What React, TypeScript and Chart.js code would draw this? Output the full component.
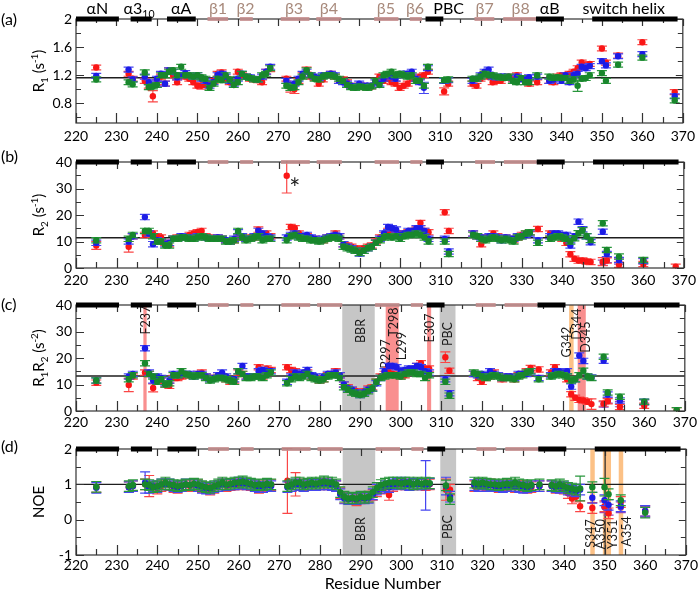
import React, { useEffect, useRef } from 'react';
import { Chart, registerables } from 'chart.js';
Chart.register(...registerables);

// ---------------- data ----------------
const RESIDUES = [
  225,
  233, 234,
  237, 238, 239, 240, 241,
  242, 243, 244, 245, 246, 247, 248, 249,
  250, 251, 252, 253, 254, 255, 256, 257, 258, 259,
  260, 261, 262, 263, 264, 265, 266, 267, 268,
  272, 273, 274, 275, 276, 277, 278, 279, 280, 281,
  282, 283, 284, 285, 286, 287, 288, 289, 290, 291,
  292, 293, 294, 295, 296, 297, 298, 299, 300, 301,
  302, 303, 304, 305, 306, 307,
  311, 312,
  318, 319, 320, 321, 322, 323, 324, 325, 326, 327,
  328, 329, 330, 331, 332, 334,
  337, 338, 339, 340, 341, 342, 343, 344, 345, 346, 347,
  350, 351, 354, 360, 368,
];

const R1_RED = [
  1.31,
  1.22, 1.15,
  1.12, 1.05, 0.90, 1.10, 1.18,
  1.08, 1.27, 1.20, 1.10, 1.20, 1.18, 1.15, 1.10,
  1.05, 1.05, 1.06, 1.08, 1.12, 1.22, 1.24, 1.15, 1.10, 1.10,
  1.25, 1.20, 1.18, 1.15, 1.14, 1.13, 1.10, 1.25, 1.30,
  1.15, 1.02, 1.00, 1.12, 1.20, 1.28, 1.18, 1.16, 1.08, 1.14,
  1.20, 1.22, 1.18, 1.12, 1.14, 1.10, 1.05, 1.02, 1.05, 1.05,
  1.02, 1.04, 1.12, 1.18, 1.12, 1.15, 1.10, 1.08, 1.02, 1.05,
  1.08, 1.15, 1.15, 1.18, 1.20, 1.25,
  0.97, 1.08,
  1.08, 1.05, 1.15, 1.22, 1.18, 1.10, 1.12, 1.12, 1.16, 1.18,
  1.14, 1.20, 1.15, 1.16, 1.08, 1.10,
  1.12, 1.10, 1.18, 1.20, 1.20, 1.22, 1.25, 1.30, 1.38, 1.34, 1.36,
  1.58, 1.38, 1.48, 1.67, 0.96,
];
const R1_BLUE = [
  1.19,
  1.28, 1.14,
  1.18, 1.10, 1.06, 1.15, 1.22,
  1.08, 1.27, 1.25, 1.17, 1.20, 1.23, 1.20, 1.18,
  1.20, 1.15, 1.12, 1.05, 1.10, 1.20, 1.22, 1.18, 1.12, 1.08,
  1.15, 1.22, 1.18, 1.17, 1.15, 1.14, 1.18, 1.25, 1.32,
  1.12, 1.06, 1.08, 1.15, 1.22, 1.25, 1.20, 1.18, 1.16, 1.20,
  1.20, 1.22, 1.20, 1.12, 1.10, 1.08, 1.05, 1.04, 1.08, 1.05,
  1.05, 1.05, 1.10, 1.08, 1.15, 1.20, 1.18, 1.15, 1.20, 1.22,
  1.22, 1.25, 1.15, 1.10, 1.02, 1.30,
  1.12, 1.13,
  1.12, 1.15, 1.20, 1.25, 1.28, 1.18, 1.17, 1.18, 1.18, 1.16,
  1.12, 1.18, 1.15, 1.14, 1.17, 1.18,
  1.12, 1.14, 1.16, 1.12, 1.20, 1.10, 1.20, 1.22, 1.32, 1.30, 1.33,
  1.40, 1.34, 1.47, 1.50, 0.90,
];
const R1_GREEN = [
  1.14,
  1.10, 1.07,
  1.24, 1.03, 1.04, 1.06, 1.20,
  1.20, 1.25, 1.27, 1.20, 1.32, 1.20, 1.20, 1.18,
  1.20, 1.17, 1.15, 1.02, 1.08, 1.15, 1.13, 1.20, 1.14, 1.06,
  1.10, 1.22, 1.18, 1.16, 1.14, 1.14, 1.20, 1.22, 1.30,
  1.05, 1.02, 1.03, 1.10, 1.18, 1.27, 1.20, 1.15, 1.14, 1.18,
  1.20, 1.20, 1.18, 1.15, 1.12, 1.06, 1.03, 1.02, 1.04, 1.03,
  1.02, 1.04, 1.12, 1.06, 1.20, 1.22, 1.25, 1.20, 1.22, 1.20,
  1.18, 1.20, 1.12, 1.12, 1.05, 1.32,
  1.13, 1.14,
  1.15, 1.15, 1.18, 1.22, 1.20, 1.20, 1.18, 1.17, 1.16, 1.18,
  1.12, 1.10, 1.16, 1.10, 1.10, 1.20,
  1.18, 1.16, 1.17, 1.16, 1.16, 1.12, 1.14, 1.05, 1.15, 1.16, 1.20,
  1.23, 1.12, 1.35, 1.45, 0.84,
];

const R2_RED = [
  8.5,
  8.0, 12.0,
  12.5, 13.0, 13.0, 12.0, 11.5,
  9.5, 9.0, 11.0, 11.5, 11.5, 12.0, 12.5, 13.0,
  13.5, 14.0, 12.0, 11.5, 11.0, 11.5, 11.0, 10.5, 10.0, 10.5,
  11.5, 12.0, 11.0, 11.5, 11.5, 14.5, 12.0, 13.0, 12.0,
  34.8, 15.5, 15.0, 13.0, 12.0, 12.0, 11.0, 11.0, 10.5, 10.5,
  11.5, 12.0, 13.0, 12.0, 9.0, 8.5, 8.0, 7.5, 7.0, 7.5,
  8.0, 8.5, 10.0, 11.5, 12.5, 14.0, 13.0, 13.0, 13.0, 13.0,
  13.5, 14.0, 14.5, 17.0, 14.0, 13.5,
  21.0, 14.0,
  13.0, 12.0, 9.0, 11.5, 11.5, 13.0, 12.0, 11.0, 11.5, 11.0,
  10.5, 11.5, 12.5, 13.0, 13.5, 14.7,
  13.0, 13.0, 12.0, 11.0, 9.5, 5.2, 3.5, 2.8, 2.8, 2.5, 2.3,
  2.4, 2.8, 1.2, 1.5, 0.5,
];
const R2_BLUE = [
  9.5,
  10.0, 12.0,
  19.2, 13.0, 9.0, 10.5, 10.0,
  9.0, 9.5, 11.0, 11.0, 12.0, 11.5, 11.5, 11.0,
  12.0, 12.0, 11.5, 11.0, 11.0, 11.5, 11.0, 10.5, 10.0, 11.0,
  13.5, 12.0, 11.0, 11.0, 12.0, 14.0, 13.0, 12.0, 11.5,
  11.5, 12.5, 13.0, 12.0, 12.0, 12.5, 11.5, 11.0, 10.5, 11.0,
  11.5, 12.0, 12.5, 12.0, 9.0, 8.0, 7.5, 6.5, 5.5, 6.5,
  7.5, 8.0, 9.5, 11.0, 13.0, 15.5, 15.0, 14.5, 12.5, 13.0,
  14.0, 14.0, 15.0, 15.0, 14.0, 11.0,
  11.0, 6.2,
  13.0, 12.0, 11.5, 11.0, 12.0, 12.0, 11.5, 10.5, 11.5, 11.0,
  11.0, 12.0, 12.0, 12.5, 13.0, 10.5,
  12.0, 13.0, 13.0, 12.5, 12.5, 8.5, 12.0, 17.5, 14.6, 12.0, 9.7,
  13.7, 5.3, 3.0, 2.7, null,
];
const R2_GREEN = [
  10.5,
  11.0, 12.5,
  14.0, 14.0, 12.0, 10.0, 10.0,
  8.5, 8.5, 11.0, 11.0, 11.5, 11.5, 11.0, 11.0,
  11.5, 12.0, 11.5, 11.0, 11.0, 11.0, 11.0, 10.0, 10.0, 10.5,
  14.0, 11.5, 10.5, 11.0, 11.5, 12.0, 10.5, 11.0, 11.0,
  10.5, 12.0, 12.5, 11.5, 11.0, 11.0, 10.5, 10.5, 10.0, 10.5,
  11.0, 11.5, 11.5, 11.0, 8.0, 7.5, 7.0, 6.5, 5.7, 6.5,
  7.5, 8.0, 9.5, 10.5, 11.5, 12.0, 11.5, 12.0, 11.0, 12.0,
  12.5, 12.5, 13.0, 12.5, 11.5, 10.0,
  10.0, 5.3,
  12.5, 12.0, 11.0, 10.5, 11.0, 11.5, 11.0, 10.5, 11.0, 10.5,
  10.0, 11.5, 12.0, 13.0, 13.5, 9.5,
  11.0, 11.5, 12.0, 11.5, 11.0, 10.0, 11.2, 13.1, 14.2, 12.0, 10.6,
  16.9, 6.8, 4.3, 3.0, null,
];

const R1R2_RED = [
  10.7,
  9.8, 13.0,
  14.5, 14.0, 8.7, 12.0, 11.5,
  10.0, 9.5, 12.5, 12.5, 13.0, 13.5, 13.5, 13.5,
  14.0, 14.5, 13.0, 12.5, 12.5, 13.5, 13.0, 12.0, 11.0, 11.5,
  14.5, 14.0, 13.0, 13.0, 13.0, 16.5, 13.0, 16.0, 15.5,
  16.5, 15.5, 15.0, 14.0, 14.0, 14.5, 13.0, 12.5, 11.5, 12.0,
  13.5, 14.0, 15.0, 13.5, 10.0, 9.0, 8.0, 7.5, 7.0, 7.5,
  8.5, 9.0, 11.0, 13.0, 14.0, 15.5, 14.0, 13.5, 13.0, 13.5,
  14.5, 16.0, 17.0, 18.0, 16.0, 16.0,
  20.3, 15.2,
  14.0, 12.5, 11.0, 12.5, 13.0, 14.5, 13.5, 12.0, 13.0, 13.0,
  12.0, 13.5, 14.0, 15.0, 16.2, 15.7,
  14.5, 16.5, 14.5, 14.0, 12.0, 6.3, 5.0, 4.2, 4.0, 3.5, 2.6,
  2.8, 3.7, 1.5, 2.0, 0.3,
];
const R1R2_BLUE = [
  11.5,
  13.0, 14.0,
  23.7, 14.5, 11.5, 13.0, 12.5,
  10.5, 11.5, 14.0, 13.5, 14.0, 14.0, 14.0, 13.0,
  14.0, 14.0, 13.0, 12.0, 12.5, 13.5, 14.5, 13.0, 12.0, 12.0,
  15.0, 17.0, 13.0, 13.0, 13.0, 15.0, 15.5, 15.0, 15.0,
  11.0, 13.0, 14.5, 14.0, 14.5, 15.5, 13.5, 13.0, 12.0, 13.0,
  14.0, 14.0, 14.5, 13.5, 10.0, 8.5, 8.0, 7.0, 6.0, 7.0,
  8.0, 8.5, 10.5, 12.5, 15.0, 17.0, 17.0, 16.5, 15.0, 15.5,
  16.0, 16.0, 17.0, 16.5, 15.0, 14.5,
  12.0, 6.7,
  14.0, 13.5, 14.0, 13.5, 15.0, 14.0, 13.5, 12.5, 13.0, 13.0,
  12.5, 14.0, 14.0, 14.0, 15.0, 12.5,
  13.5, 15.0, 15.0, 14.5, 15.0, 9.2, 12.0, 20.9, 18.9, 13.0, 12.6,
  19.0, 6.2, 4.0, 3.5, null,
];
const R1R2_GREEN = [
  11.5,
  12.0, 13.5,
  18.0, 14.0, 13.0, 11.0, 12.0,
  10.0, 10.5, 13.5, 13.5, 15.0, 14.0, 13.5, 13.0,
  13.5, 13.5, 12.5, 11.5, 12.0, 12.5, 12.5, 12.0, 11.5, 11.0,
  15.0, 14.0, 12.5, 12.5, 13.0, 13.0, 12.5, 13.5, 14.5,
  10.5, 12.0, 13.0, 12.5, 13.0, 14.0, 12.5, 12.0, 11.5, 12.0,
  13.0, 13.5, 13.5, 12.5, 9.0, 8.0, 7.0, 6.5, 6.0, 6.5,
  7.5, 8.5, 11.0, 12.5, 13.0, 13.5, 13.5, 13.5, 13.0, 14.0,
  14.5, 14.5, 14.0, 14.0, 12.5, 13.5,
  11.0, 5.8,
  14.5, 14.0, 13.0, 12.5, 13.0, 13.5, 13.0, 12.5, 12.5, 12.5,
  12.0, 13.0, 13.5, 14.5, 15.0, 12.0,
  13.0, 13.5, 14.0, 13.5, 13.0, 11.5, 12.0, 13.5, 15.2, 13.0, 12.5,
  20.5, 7.0, 5.4, 3.5, 0.3,
];

const NOE_RED = [
  0.92,
  0.92, 0.95,
  1.00, 0.95, 0.92, 0.88, 0.95,
  1.00, 0.98, 0.92, 0.90, 0.95, 0.98, 0.95, 1.00,
  0.98, 0.92, 0.90, 0.85, 0.90, 0.95, 1.00, 0.95, 0.98, 1.00,
  1.00, 1.02, 1.00, 0.98, 0.95, 0.90, 0.95, 1.00, 0.98,
  1.10, 0.95, 1.00, 1.00, 0.95, 0.98, 1.00, 0.98, 1.00, 1.02,
  1.00, 0.98, 0.95, 0.75, 0.62, 0.60, 0.60, 0.55, 0.60, 0.62,
  0.65, 0.70, 0.80, 0.88, 0.90, 0.70, 0.95, 1.00, 1.02, 1.00,
  0.98, 1.00, 1.02, 1.00, 0.98, 1.00,
  0.85, 0.85,
  0.95, 1.00, 0.95, 0.98, 1.00, 0.95, 0.92, 0.95, 0.98, 0.95,
  0.92, 0.95, 0.95, 0.90, 0.92, 0.95,
  0.95, 0.90, 0.92, 0.88, 0.75, 0.60, 0.65, 0.38, null, null, 0.33,
  0.38, 0.18, 0.50, 0.25, null,
];
const NOE_BLUE = [
  0.90,
  0.92, 0.95,
  1.05, 0.90, 0.95, 0.92, 1.00,
  1.00, 1.00, 0.95, 0.92, 0.95, 1.00, 0.98, 1.00,
  0.95, 0.90, 0.88, 0.88, 0.92, 0.95, 1.00, 0.98, 1.00, 1.00,
  1.05, 1.02, 1.00, 1.00, 0.95, 0.92, 0.92, 0.98, 0.95,
  0.92, 0.95, 1.00, 0.98, 0.95, 1.00, 0.98, 0.98, 1.00, 1.00,
  1.00, 0.98, 0.95, 0.72, 0.60, 0.58, 0.60, 0.58, 0.62, 0.60,
  0.62, 0.72, 0.85, 0.90, 0.95, 0.92, 1.00, 1.02, 1.05, 1.00,
  0.98, 1.02, 1.00, 1.00, 0.97, 1.02,
  0.95, 0.65,
  0.98, 0.95, 1.00, 0.95, 0.98, 0.95, 0.95, 0.92, 0.95, 0.95,
  0.95, 0.92, 0.90, 0.92, 0.95, 0.95,
  0.95, 0.92, 0.90, 0.92, 0.85, 0.82, 0.80, 0.85, null, null, 0.62,
  0.55, 0.42, 0.38, 0.25, null,
];
const NOE_GREEN = [
  0.93,
  0.95, 0.98,
  1.00, 0.98, 0.92, 0.95, 1.00,
  1.05, 1.00, 0.98, 0.95, 0.97, 1.00, 0.98, 1.02,
  1.00, 0.95, 0.92, 0.90, 0.95, 1.00, 1.05, 1.00, 1.02, 1.05,
  1.05, 1.08, 1.05, 1.02, 0.98, 1.00, 0.98, 1.02, 1.00,
  0.95, 1.00, 1.05, 1.05, 1.00, 1.02, 1.05, 1.02, 1.05, 1.08,
  1.05, 1.05, 1.00, 0.78, 0.65, 0.60, 0.62, 0.60, 0.65, 0.62,
  0.65, 0.78, 0.90, 0.98, 1.02, 1.05, 1.05, 1.05, 1.02, 1.05,
  1.05, 1.00, 1.05, 1.02, 1.05, 1.03,
  0.97, 0.58,
  1.05, 1.02, 1.05, 1.02, 1.00, 1.00, 0.98, 1.00, 1.02, 1.00,
  1.05, 1.00, 0.98, 0.95, 0.98, 1.00,
  0.98, 0.95, 1.00, 0.95, 0.90, 0.88, 0.85, 0.88, null, null, 0.92,
  0.92, 0.72, 0.55, 0.20, null,
];

// fourth (purple) series, only a few residues
const PURPLE_RESIDUES = [350, 351, 354, 360];
const R2_PURPLE = [2.0, 3.0, 2.5, 2.5];
const R1R2_PURPLE = [2.5, 4.0, 2.6, 3.2];
const NOE_PURPLE = [0.35, 0.28, 0.35, 0.22];

// error bars: default per panel, plus exceptions [panel, series, residue, error]
const ERR_DEFAULT = { a: 0.035, b: 1.0, c: 1.0, d: 0.15 };
const ERR_EXCEPTIONS: [string, string, number, number][] = [
  ['a', 'red', 239, 0.08], ['a', 'red', 273, 0.06], ['a', 'red', 274, 0.06], ['a', 'red', 311, 0.05],
  ['a', 'red', 251, 0.05], ['a', 'green', 344, 0.08], ['a', 'blue', 306, 0.08], ['a', 'red', 268, 0.05],
  ['b', 'red', 272, 6.5], ['b', 'red', 233, 2.0], ['b', 'red', 225, 1.5], ['b', 'red', 350, 1.5],
  ['c', 'red', 233, 2.5], ['c', 'red', 239, 1.5], ['c', 'red', 347, 2.0], ['c', 'red', 311, 2.0],
  ['d', 'red', 272, 0.92], ['d', 'blue', 306, 0.7], ['d', 'blue', 237, 0.3], ['d', 'red', 238, 0.3],
  ['d', 'red', 274, 0.33], ['d', 'green', 344, 0.35], ['d', 'red', 311, 0.3], ['d', 'blue', 311, 0.25],
  ['d', 'green', 350, 0.25],
];

// axes
const X_MAJOR = [220, 230, 240, 250, 260, 270, 280, 290, 300, 310, 320, 330, 340, 350, 360, 370];
const X_MINOR = [225, 235, 245, 255, 265, 275, 285, 295, 305, 315, 325, 335, 345, 355, 365];

// secondary structure
const SS_NAMES = ['αN', 'α3', 'αA', 'β1', 'β2', 'β3', 'β4', 'β5', 'β6', 'PBC', 'β7', 'β8', 'αB', 'switch helix'];
const SS_SUB = ['', '10', '', '', '', '', '', '', '', '', '', '', '', ''];
const SS_START = [220, 233.5, 242.5, 252.5, 260.5, 270.6, 279.4, 293.7, 302.5, 306.4, 318.5, 325.6, 333.7, 347.6];
const SS_END = [230.6, 238.7, 249.6, 257.6, 263.7, 277.7, 285.6, 299.7, 305.5, 310.8, 323.4, 333.7, 340.6, 368.7];
const SS_KIND = ['h', 'h', 'h', 's', 's', 's', 's', 's', 's', 'h', 's', 's', 'h', 'h'];
const SS_LABEL_AT = [225.3, 235.6, 246, 255.1, 261.9, 273.9, 282.5, 296.6, 303.8, 312.1, 321, 329.9, 337.1, 355.4];

// shaded regions
const C_BAND_START = [236.6, 285.6, 296.3, 306.5, 309.6, 341.5, 343.6];
const C_BAND_END = [237.4, 293.6, 299.5, 307.5, 313.5, 342.6, 345.6];
const C_BAND_KIND = ['red', 'gray', 'red', 'red', 'gray', 'orange', 'red'];
const D_BAND_START = [285.6, 309.6, 346.5, 349.6, 353.5, 350.0];
const D_BAND_END = [293.6, 313.5, 347.6, 351.6, 354.6, 350.3];
const D_BAND_KIND = ['gray', 'gray', 'orange', 'orange', 'orange', 'dark'];

// rotated labels
const C_TEXT = ['F237', 'BBR', 'R297', 'T298', 'L299', 'E307', 'PBC', 'G342', 'D344', 'D345'];
const C_TEXT_X = [237.2, 290.1, 296.4, 298.3, 300.2, 307.3, 311.6, 340.9, 343.4, 345.6];
const C_TEXT_Y = [34.3, 30.2, 21.5, 33.6, 24.5, 31.3, 29, 26, 32.8, 27.9];
const D_TEXT = ['BBR', 'PBC', 'S347', 'A350', 'Y351', 'A354'];
const D_TEXT_X = [290.1, 311.6, 346.6, 349.2, 352.2, 355.5];
const D_TEXT_Y = [-0.27, -0.21, -0.39, -0.41, -0.41, -0.33];
// upright marks
const B_MARK = ['*'];
const B_MARK_X = [274.0];
const B_MARK_Y = [32.2];

// ---------------- styling ----------------
const FONT = 'Lato, "Open Sans", sans-serif';
const COLORS: Record<string, string> = {
  red: 'rgb(250,22,22)',
  blue: 'rgb(28,28,230)',
  green: 'rgb(24,135,44)',
  purple: 'rgb(135,45,170)',
};
const ERR_COLORS: Record<string, string> = {
  red: 'rgb(250,70,70)',
  blue: 'rgb(70,70,240)',
  green: 'rgb(40,150,60)',
  purple: 'rgb(150,70,185)',
};
const BAND_COLORS: Record<string, string> = {
  gray: 'rgb(198,198,198)',
  red: 'rgba(248,115,115,0.8)',
  orange: 'rgba(252,190,128,0.95)',
  dark: 'rgb(40,40,40)',
};

type Part = [string, number];
type PanelCfg = {
  key: 'a' | 'b' | 'c' | 'd';
  top: number;
  height: number;
  padTop: number;
  xAxisH: number;
  xPad: number;
  yMin: number;
  yMax: number;
  yMajor: number[];
  yMinor: number[];
  baseline: number;
  series: Record<string, (number | null)[]>;
  purple: number[] | null;
  bandStart: number[];
  bandEnd: number[];
  bandKind: string[];
  text: string[];
  textX: number[];
  textY: number[];
  mark: string[];
  markX: number[];
  markY: number[];
  title: Part[];
  ssLabels: boolean;
  xTitle: boolean;
  labelY: number;
};

const PANELS: PanelCfg[] = [
  {
    key: 'a', top: 0, height: 145, padTop: 19, xAxisH: 22, xPad: 5,
    yMin: 0.52, yMax: 2, yMajor: [0.8, 1.2, 1.6, 2], yMinor: [0.6, 1.0, 1.4, 1.8], baseline: 1.165,
    series: { red: R1_RED, blue: R1_BLUE, green: R1_GREEN }, purple: null,
    bandStart: [], bandEnd: [], bandKind: [], text: [], textX: [], textY: [],
    mark: [], markX: [], markY: [],
    title: [['R', 0], ['1', 1], [' (s', 0], ['-1', -1], [')', 0]], ssLabels: true, xTitle: false, labelY: 19.5,
  },
  {
    key: 'b', top: 145, height: 145, padTop: 17, xAxisH: 22, xPad: 4,
    yMin: 0, yMax: 40, yMajor: [0, 10, 20, 30, 40], yMinor: [5, 15, 25, 35], baseline: 11.4,
    series: { red: R2_RED, blue: R2_BLUE, green: R2_GREEN }, purple: R2_PURPLE,
    bandStart: [], bandEnd: [], bandKind: [], text: [], textX: [], textY: [],
    mark: B_MARK, markX: B_MARK_X, markY: B_MARK_Y,
    title: [['R', 0], ['2', 1], [' (s', 0], ['-1', -1], [')', 0]], ssLabels: false, xTitle: false, labelY: 11.7,
  },
  {
    key: 'c', top: 290, height: 143, padTop: 15, xAxisH: 22, xPad: 3,
    yMin: 0, yMax: 40, yMajor: [0, 10, 20, 30, 40], yMinor: [5, 15, 25, 35], baseline: 13.2,
    series: { red: R1R2_RED, blue: R1R2_BLUE, green: R1R2_GREEN }, purple: R1R2_PURPLE,
    bandStart: C_BAND_START, bandEnd: C_BAND_END, bandKind: C_BAND_KIND,
    text: C_TEXT, textX: C_TEXT_X, textY: C_TEXT_Y,
    mark: [], markX: [], markY: [],
    title: [['R', 0], ['1', 1], ['R', 0], ['2', 1], [' (s', 0], ['-2', -1], [')', 0]], ssLabels: false, xTitle: false, labelY: 15,
  },
  {
    key: 'd', top: 433, height: 159, padTop: 16, xAxisH: 37, xPad: 2,
    yMin: -1, yMax: 2, yMajor: [-1, 0, 1, 2], yMinor: [-0.5, 0.5, 1.5], baseline: 1.0,
    series: { red: NOE_RED, blue: NOE_BLUE, green: NOE_GREEN }, purple: NOE_PURPLE,
    bandStart: D_BAND_START, bandEnd: D_BAND_END, bandKind: D_BAND_KIND,
    text: D_TEXT, textX: D_TEXT_X, textY: D_TEXT_Y,
    mark: [], markX: [], markY: [],
    title: [['NOE', 0]], ssLabels: false, xTitle: true, labelY: 13.7,
  },
];

function errFor(panel: string, series: string, residue: number): number {
  for (const e of ERR_EXCEPTIONS) {
    if (e[0] === panel && e[1] === series && e[2] === residue) return e[3];
  }
  return (ERR_DEFAULT as any)[panel];
}

function buildSeries(panel: string, name: string, residues: number[], values: (number | null)[]) {
  const pts: { x: number; y: number | null }[] = [];
  const errs: (number | null)[] = [];
  for (let i = 0; i < residues.length; i++) {
    pts.push({ x: residues[i], y: values[i] });
    errs.push(values[i] == null ? null : errFor(panel, name, residues[i]));
  }
  return { pts, errs };
}

function drawRich(ctx: CanvasRenderingContext2D, parts: Part[], x: number, y: number, size: number, rotate: boolean, color: string) {
  ctx.save();
  ctx.translate(x, y);
  if (rotate) ctx.rotate(-Math.PI / 2);
  const small = size * 0.66;
  const widths = parts.map(([t, s]) => {
    ctx.font = `${s ? small : size}px ${FONT}`;
    return ctx.measureText(t).width;
  });
  const total = widths.reduce((a, b) => a + b, 0);
  let cx = -total / 2;
  ctx.fillStyle = color;
  ctx.textAlign = 'left';
  ctx.textBaseline = 'alphabetic';
  const base = size * 0.36;
  parts.forEach(([t, s], i) => {
    ctx.font = `${s ? small : size}px ${FONT}`;
    const dy = s === 1 ? size * 0.25 : s === -1 ? -size * 0.38 : 0;
    ctx.fillText(t, cx, base + dy);
    cx += widths[i];
  });
  ctx.restore();
}

function makeDecor(cfg: PanelCfg) {
  return {
    id: 'decor',
    beforeDatasetsDraw(chart: any) {
      const ctx: CanvasRenderingContext2D = chart.ctx;
      const { left, right, top, bottom } = chart.chartArea;
      const xs = chart.scales.x;
      const ys = chart.scales.y;
      ctx.save();
      ctx.beginPath();
      ctx.rect(left, top, right - left, bottom - top);
      ctx.clip();
      cfg.bandStart.forEach((s, i) => {
        const x1 = xs.getPixelForValue(s);
        const x2 = xs.getPixelForValue(cfg.bandEnd[i]);
        ctx.fillStyle = BAND_COLORS[cfg.bandKind[i]];
        ctx.fillRect(x1, top, Math.max(1, x2 - x1), bottom - top);
      });
      const by = ys.getPixelForValue(cfg.baseline);
      ctx.strokeStyle = '#1e1e1e';
      ctx.lineWidth = 1.4;
      ctx.beginPath();
      ctx.moveTo(left, by);
      ctx.lineTo(right, by);
      ctx.stroke();
      ctx.fillStyle = '#1a1a1a';
      ctx.font = `12.5px ${FONT}`;
      ctx.textAlign = 'center';
      ctx.textBaseline = 'middle';
      cfg.text.forEach((t, i) => {
        ctx.save();
        ctx.translate(xs.getPixelForValue(cfg.textX[i]), ys.getPixelForValue(cfg.textY[i]));
        ctx.rotate(-Math.PI / 2);
        ctx.fillText(t, 0, 0);
        ctx.restore();
      });
      ctx.font = `26px ${FONT}`;
      cfg.mark.forEach((t, i) => {
        ctx.fillText(t, xs.getPixelForValue(cfg.markX[i]), ys.getPixelForValue(cfg.markY[i]) + 7);
      });
      ctx.restore();
    },
    beforeDatasetDraw(chart: any, args: any) {
      const ds = chart.data.datasets[args.index];
      const errs: (number | null)[] = ds.errors;
      if (!errs) return;
      const ctx: CanvasRenderingContext2D = chart.ctx;
      const { left, right, top, bottom } = chart.chartArea;
      const ys = chart.scales.y;
      ctx.save();
      ctx.beginPath();
      ctx.rect(left, top - 1, right - left, bottom - top + 2);
      ctx.clip();
      ctx.strokeStyle = ds.errColor;
      ctx.lineWidth = 1.2;
      args.meta.data.forEach((el: any, i: number) => {
        const raw = ds.data[i];
        const e = errs[i];
        if (raw.y == null || e == null) return;
        const x = el.x;
        const y1 = ys.getPixelForValue(raw.y - e);
        const y2 = ys.getPixelForValue(raw.y + e);
        ctx.beginPath();
        ctx.moveTo(x, y1);
        ctx.lineTo(x, y2);
        ctx.moveTo(x - 5, y1);
        ctx.lineTo(x + 5, y1);
        ctx.moveTo(x - 5, y2);
        ctx.lineTo(x + 5, y2);
        ctx.stroke();
      });
      ctx.restore();
    },
    afterDraw(chart: any) {
      const ctx: CanvasRenderingContext2D = chart.ctx;
      const { left, right, top, bottom } = chart.chartArea;
      const xs = chart.scales.x;
      const ys = chart.scales.y;
      ctx.save();
      ctx.strokeStyle = '#333';
      ctx.lineWidth = 1.2;
      ctx.strokeRect(left, top, right - left, bottom - top);
      ctx.beginPath();
      X_MAJOR.forEach((v) => {
        const px = Math.round(xs.getPixelForValue(v)) + 0.5;
        ctx.moveTo(px, bottom); ctx.lineTo(px, bottom - 10);
        ctx.moveTo(px, top); ctx.lineTo(px, top + 7);
      });
      X_MINOR.forEach((v) => {
        const px = Math.round(xs.getPixelForValue(v)) + 0.5;
        ctx.moveTo(px, bottom); ctx.lineTo(px, bottom - 6);
        ctx.moveTo(px, top); ctx.lineTo(px, top + 4);
      });
      cfg.yMajor.forEach((v) => {
        const py = Math.round(ys.getPixelForValue(v)) + 0.5;
        ctx.moveTo(left, py); ctx.lineTo(left + 8, py);
        ctx.moveTo(right, py); ctx.lineTo(right - 7, py);
      });
      cfg.yMinor.forEach((v) => {
        const py = Math.round(ys.getPixelForValue(v)) + 0.5;
        ctx.moveTo(left, py); ctx.lineTo(left + 5, py);
        ctx.moveTo(right, py); ctx.lineTo(right - 5, py);
      });
      ctx.stroke();

      // secondary structure bars
      SS_START.forEach((s, i) => {
        const x1 = xs.getPixelForValue(s);
        const x2 = xs.getPixelForValue(SS_END[i]);
        if (SS_KIND[i] === 'h') {
          ctx.fillStyle = '#000';
          ctx.fillRect(x1, top - 2.5, x2 - x1, 5);
        } else {
          ctx.fillStyle = 'rgba(196,140,140,0.85)';
          ctx.fillRect(x1, top - 2, x2 - x1, 4);
        }
      });
      if (cfg.ssLabels) {
        SS_NAMES.forEach((n, i) => {
          const color = SS_KIND[i] === 's' ? 'rgb(168,138,124)' : '#000';
          const parts: Part[] = SS_SUB[i] ? [[n, 0], [SS_SUB[i], 1]] : [[n, 0]];
          drawRich(ctx, parts, xs.getPixelForValue(SS_LABEL_AT[i]), 8.3, 16, false, color);
        });
      }
      // panel letter
      ctx.fillStyle = '#000';
      ctx.font = `16px ${FONT}`;
      ctx.textAlign = 'left';
      ctx.textBaseline = 'middle';
      ctx.fillText(`(${cfg.key})`, 1, cfg.labelY);
      // y title
      drawRich(ctx, cfg.title, 38.5, (top + bottom) / 2, 15, true, '#000');
      if (cfg.xTitle) {
        ctx.fillStyle = '#000';
        ctx.font = `16px ${FONT}`;
        ctx.textAlign = 'center';
        ctx.textBaseline = 'alphabetic';
        ctx.fillText('Residue Number', (left + right) / 2 + 2, bottom + 34);
      }
      ctx.restore();
    },
  };
}

function buildConfig(cfg: PanelCfg): any {
  const order: Record<string, number> = { green: 0, blue: 1, red: 2, purple: 3 };
  const datasets: any[] = [];
  const addSeries = (name: string, residues: number[], values: (number | null)[]) => {
    const { pts, errs } = buildSeries(cfg.key, name, residues, values);
    datasets.push({
      label: name,
      data: pts,
      errors: errs,
      errColor: ERR_COLORS[name],
      borderColor: COLORS[name],
      backgroundColor: COLORS[name],
      pointBackgroundColor: COLORS[name],
      pointBorderColor: COLORS[name],
      pointBorderWidth: 0,
      pointRadius: 3.2,
      pointHoverRadius: 3.2,
      showLine: false,
      order: order[name],
    });
  };
  if (cfg.purple) addSeries('purple', PURPLE_RESIDUES, cfg.purple);
  addSeries('red', RESIDUES, cfg.series.red);
  addSeries('blue', RESIDUES, cfg.series.blue);
  addSeries('green', RESIDUES, cfg.series.green);

  const tickFont = { family: FONT, size: 14 };
  return {
    type: 'line',
    data: { datasets },
    options: {
      animation: false,
      responsive: false,
      events: [],
      layout: { padding: { top: cfg.padTop, right: 13, left: 0, bottom: 0 } },
      plugins: { legend: { display: false }, tooltip: { enabled: false } },
      scales: {
        x: {
          type: 'linear',
          min: 220,
          max: 370,
          grid: { display: false, drawTicks: false },
          border: { display: false },
          afterBuildTicks: (s: any) => { s.ticks = X_MAJOR.map((v) => ({ value: v })); },
          afterFit: (s: any) => { s.height = cfg.xAxisH; },
          ticks: {
            font: tickFont, color: '#000', padding: cfg.xPad, maxRotation: 0, autoSkip: false,
            callback: (v: number) => String(v),
          },
        },
        y: {
          type: 'linear',
          min: cfg.yMin,
          max: cfg.yMax,
          grid: { display: false, drawTicks: false },
          border: { display: false },
          afterBuildTicks: (s: any) => { s.ticks = cfg.yMajor.map((v) => ({ value: v })); },
          afterFit: (s: any) => { s.width = 76; },
          ticks: {
            font: tickFont, color: '#000', padding: 4,
            callback: (v: number) => String(Number(v.toFixed(2))),
          },
        },
      },
    },
    plugins: [makeDecor(cfg)],
  };
}

function Panel({ cfg }: { cfg: PanelCfg }) {
  const ref = useRef<HTMLCanvasElement>(null);
  useEffect(() => {
    const chart = new Chart(ref.current as HTMLCanvasElement, buildConfig(cfg));
    return () => chart.destroy();
  }, [cfg]);
  return (
    <canvas
      ref={ref}
      width={700}
      height={cfg.height}
      style={{ position: 'absolute', left: 0, top: cfg.top, width: 700, height: cfg.height, display: 'block' }}
    />
  );
}

export default function App() {
  return (
    <div style={{ position: 'absolute', left: 0, top: 0, width: 700, height: 592, background: '#fff' }}>
      {PANELS.map((p) => (
        <Panel key={p.key} cfg={p} />
      ))}
    </div>
  );
}
